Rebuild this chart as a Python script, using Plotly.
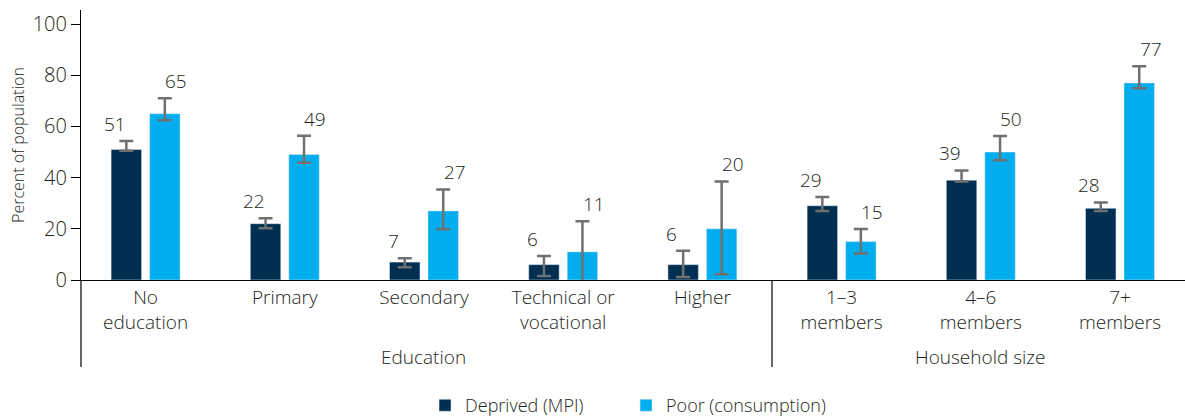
import plotly.graph_objects as go

# Poverty and deprivation by education level and household size
categories = ["No<br>education", "Primary", "Secondary", "Technical or<br>vocational",
              "Higher", "1–3<br>members", "4–6<br>members", "7+<br>members"]
group_names = ["Education", "Household size"]
group_sizes = [5, 3]

deprived = [51, 22, 7, 6, 6, 29, 39, 28]
deprived_low = [50.5, 20.2, 5.0, 1.6, 1.2, 27.0, 38.5, 27.0]
deprived_high = [54.3, 24.1, 8.5, 9.4, 11.4, 32.4, 42.8, 30.3]

poor = [65, 49, 27, 11, 20, 15, 50, 77]
poor_low = [62.4, 45.8, 19.8, -1.0, 2.2, 10.4, 46.8, 74.9]
poor_high = [71.0, 56.4, 35.4, 23.0, 38.5, 19.9, 56.3, 83.5]

y_ticks = [0, 20, 40, 60, 80, 100]

NAVY = "#002F52"
BLUE = "#00AEEF"
GREY = "#707070"
TEXT = "#231F20"
FONT = "Open Sans"
W = 300

x_idx = list(range(len(categories)))


def err(vals, lo, hi):
    return dict(type="data", symmetric=False,
                array=[h - v for v, h in zip(vals, hi)],
                arrayminus=[v - l for v, l in zip(vals, lo)],
                color=GREY, thickness=2.5, width=7)


def f(size):
    return dict(family=FONT, size=size, color=TEXT, weight=W)


fig = go.Figure()
fig.add_trace(go.Bar(x=x_idx, y=deprived, name="Deprived (MPI)", marker_color=NAVY,
                     error_y=err(deprived, deprived_low, deprived_high), cliponaxis=False))
fig.add_trace(go.Bar(x=x_idx, y=poor, name="Poor (consumption)", marker_color=BLUE,
                     error_y=err(poor, poor_low, poor_high), cliponaxis=False))

# value labels above the upper end of each interval
annotations = []
for off, vals, hi in [(-0.22, deprived, deprived_high), (0.22, poor, poor_high)]:
    for i, (v, h) in enumerate(zip(vals, hi)):
        annotations.append(dict(x=i + off, y=h, xref="x", yref="y", text=str(v),
                                showarrow=False, yanchor="bottom", yshift=2,
                                font=f(19)))

# outer group labels and dividers
start = 0
shapes = [dict(type="line", xref="paper", yref="paper", x0=0, x1=0, y0=0, y1=-0.322,
               line=dict(color="#000000", width=1.2))]
for name, size in zip(group_names, group_sizes):
    centre = start + (size - 1) / 2
    annotations.append(dict(x=centre, y=-0.285, xref="x", yref="paper", text=name,
                            showarrow=False, yanchor="middle", font=f(19)))
    start += size
    if start < len(categories):
        shapes.append(dict(type="line", xref="x", yref="paper", x0=start - 0.5,
                           x1=start - 0.5, y0=0, y1=-0.322,
                           line=dict(color="#000000", width=1.2)))

fig.update_layout(
    width=1185, height=417,
    margin=dict(l=81, r=0, t=10, b=137, autoexpand=False),
    paper_bgcolor="white", plot_bgcolor="white",
    barmode="group", bargap=0.447, bargroupgap=0.208,
    font=f(18),
    showlegend=True,
    legend=dict(orientation="h", x=0.4937, xanchor="center", xref="paper",
                yref="paper", y=-0.465, yanchor="middle",
                font=f(18), itemwidth=30, entrywidth=156, entrywidthmode="pixels",
                traceorder="normal"),
    annotations=annotations,
    shapes=shapes,
)
fig.update_xaxes(range=[-0.464, 7.467], tickmode="array", tickvals=x_idx,
                 ticktext=categories, showline=True, linecolor="#000000", linewidth=1.2,
                 ticks="", showgrid=False, zeroline=False, tickfont=f(19))
fig.update_yaxes(range=[0, 105.5], tickmode="array", tickvals=y_ticks,
                 showline=True, linecolor="#000000", linewidth=1.2,
                 ticks="outside", ticklen=9, tickcolor="#000000", showgrid=False,
                 zeroline=False, tickfont=f(20),
                 title=dict(text="Percent of population", standoff=4, font=f(16)))

fig.write_html("out.html")
